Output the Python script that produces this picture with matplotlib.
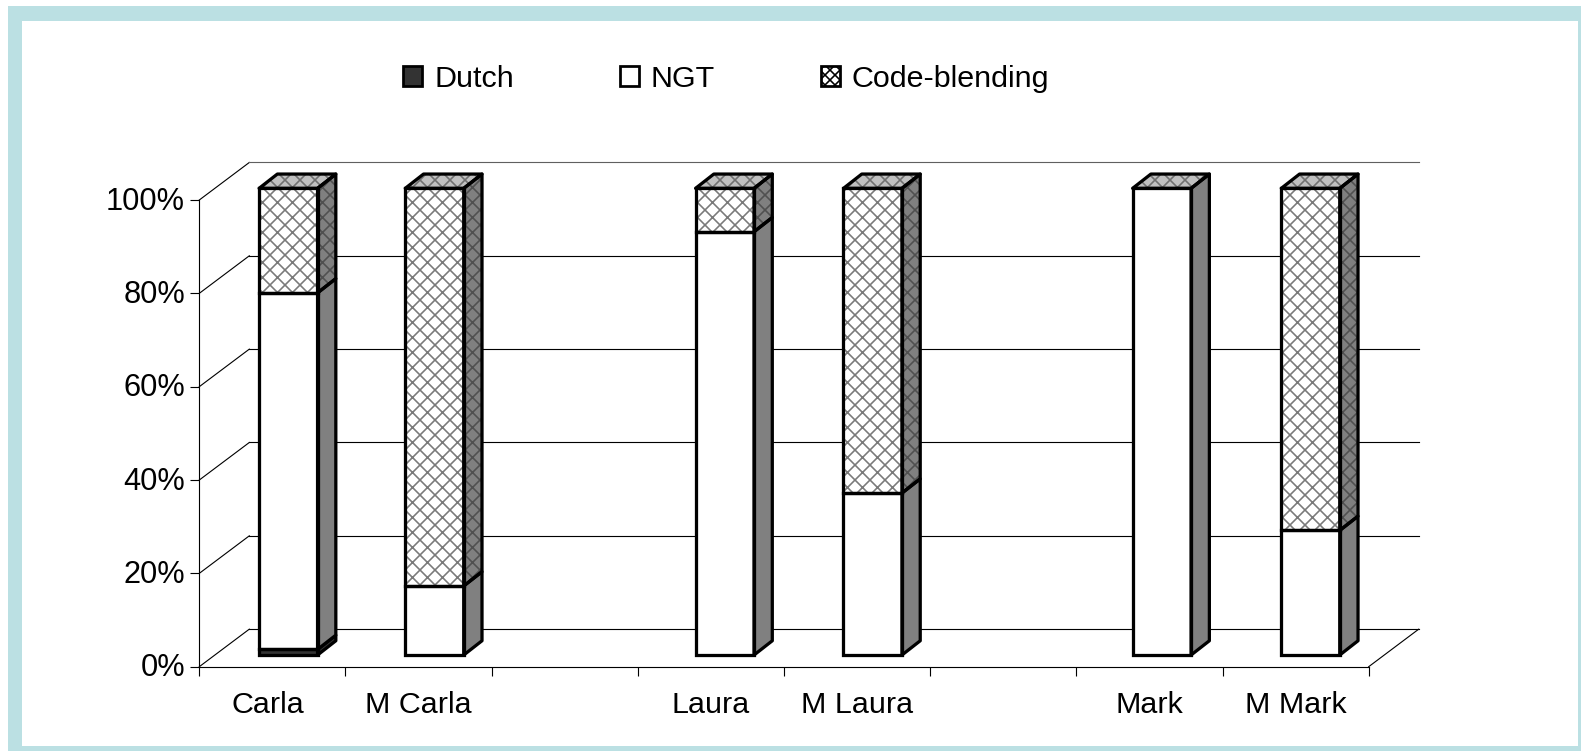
#!/usr/bin/env python3
"""Stacked 3D-look bars: Dutch / NGT / Code-blending per speaker"""

import matplotlib
matplotlib.use('Agg')
import matplotlib.pyplot as plt
from matplotlib.patches import Patch, Polygon, Rectangle
from matplotlib.transforms import ScaledTranslation

W, H = 1581, 751
DPI = 90

categories = ['Carla', 'M Carla', '', 'Laura', 'M Laura', '', 'Mark', 'M Mark']
dutch = [1.2, 0, 0, 0, 0, 0, 0, 0]
ngt = [76.4, 14.8, 0, 90.7, 34.7, 0, 100, 26.7]
code_blending = [22.4, 85.2, 0, 9.3, 65.3, 0, 0, 73.3]
y_ticks = [0, 20, 40, 60, 80, 100]
y_labels = ['0%', '20%', '40%', '60%', '80%', '100%']

TEAL = '#BBE0E3'
AX_LEFT, AX_RIGHT, AX_TOP, AX_BOTTOM = 199.3, 1368.7, 200.0, 666.7

# Profundidad, en unidades de datos
WALL_DX, WALL_DY = 0.342, 8.04
BAR_DX, BAR_DY = 0.125, 3.06
SHIFT_X, SHIFT_Y = 0.109, 2.5
BAR_W = 0.4
BAR_NUDGE = [0, 0, 0, -0.014, -0.002, 0, -0.024, -0.007]
EDGE = 2.6

plt.rcParams['font.family'] = ['Liberation Sans', 'DejaVu Sans']
plt.rcParams['hatch.linewidth'] = 1.3

fig = plt.figure(figsize=(W / DPI, H / DPI), dpi=DPI, facecolor='white')


def frame_rect(x0, y0, x1, y1, color):
    fig.add_artist(Rectangle((x0 / W, 1 - y1 / H), (x1 - x0) / W, (y1 - y0) / H,
                             transform=fig.transFigure, facecolor=color,
                             edgecolor='none', zorder=0))


def nudge(label, dx, dy):
    # dx, dy en pixeles
    label.set_transform(label.get_transform() +
                        ScaledTranslation(dx / DPI, dy / DPI, fig.dpi_scale_trans))


frame_rect(8, 6, W, H, TEAL)
frame_rect(22, 21, 1578, 746, 'white')

ax = fig.add_axes([AX_LEFT / W, 1 - AX_BOTTOM / H, (AX_RIGHT - AX_LEFT) / W,
                   (AX_BOTTOM - AX_TOP) / H])
ax.patch.set_visible(False)
ax.set_xlim(0, len(categories))
ax.set_ylim(0, 100)
for side in ['top', 'right']:
    ax.spines[side].set_visible(False)
for side in ['left', 'bottom']:
    ax.spines[side].set_linewidth(0.9)
    ax.spines[side].set_color('black')

ax.set_yticks(y_ticks)
ax.set_yticklabels(y_labels, fontsize=24.6)
ax.tick_params(axis='y', length=7.5, width=0.9, pad=4)
for label in ax.get_yticklabels():
    nudge(label, 0, 2)
ax.set_xticks(range(len(categories) + 1))
ax.set_xticklabels([])
ax.set_xticks([i + 0.5 for i in range(len(categories))], minor=True)
ax.set_xticklabels(categories, minor=True, fontsize=24.4)
ax.tick_params(axis='x', which='major', length=7.5, width=0.9)
ax.tick_params(axis='x', which='minor', length=0, pad=19.5)
nudge(ax.get_xticklabels(minor=True)[0], -5, 0)

# Paredes: rejilla del fondo y diagonales
n = len(categories)
for v in y_ticks:
    color = '#606060' if v == 100 else 'black'
    ax.plot([0, WALL_DX], [v, v + WALL_DY], color='black', lw=0.9, clip_on=False, zorder=1)
    ax.plot([WALL_DX, n + WALL_DX], [v + WALL_DY, v + WALL_DY], color=color, lw=0.9,
            clip_on=False, zorder=1)
ax.plot([n, n + WALL_DX], [0, WALL_DY], color='black', lw=0.9, clip_on=False, zorder=1)


def face(points, fill, hatch_color=None):
    if hatch_color:
        ax.add_patch(Polygon(points, closed=True, facecolor=fill, edgecolor=hatch_color,
                             hatch='xx', lw=0, clip_on=False, zorder=3))
        fill = 'none'
    ax.add_patch(Polygon(points, closed=True, facecolor=fill, edgecolor='black', lw=EDGE,
                         joinstyle='round', clip_on=False, zorder=4))


def segment(i, start, value, front, side, hatched):
    if value <= 0:
        return
    x0 = i + 0.5 + SHIFT_X + BAR_NUDGE[i] - BAR_W / 2
    x1 = x0 + BAR_W
    y0 = start + SHIFT_Y
    y1 = y0 + value
    face([(x1, y0), (x1 + BAR_DX, y0 + BAR_DY), (x1 + BAR_DX, y1 + BAR_DY), (x1, y1)],
         side, '#505050' if hatched else None)
    ax.bar(x0, value, BAR_W, bottom=y0, align='edge', color=front, linewidth=0,
           edgecolor='#7a7a7a' if hatched else 'none', hatch='xx' if hatched else None,
           clip_on=False, zorder=3)
    ax.bar(x0, value, BAR_W, bottom=y0, align='edge', facecolor='none', edgecolor='black',
           linewidth=EDGE, clip_on=False, zorder=5)


for i in range(n):
    if dutch[i] + ngt[i] + code_blending[i] == 0:
        continue
    segment(i, 0, dutch[i], '#333333', '#333333', False)
    segment(i, dutch[i], ngt[i], 'white', '#808080', False)
    segment(i, dutch[i] + ngt[i], code_blending[i], 'white', '#808080', True)
    # Tapa superior
    x0 = i + 0.5 + SHIFT_X + BAR_NUDGE[i] - BAR_W / 2
    x1 = x0 + BAR_W
    top = dutch[i] + ngt[i] + code_blending[i] + SHIFT_Y
    face([(x0, top), (x1, top), (x1 + BAR_DX, top + BAR_DY), (x0 + BAR_DX, top + BAR_DY)],
         '#C0C0C0', '#707070')

handles = [Patch(facecolor='#333333', edgecolor='black', lw=2.2, label='Dutch'),
           Patch(facecolor='white', edgecolor='black', lw=2.2, label='NGT'),
           Patch(facecolor='white', edgecolor='black', lw=2.2, hatch='xxx', label='Code-blending')]
fig.legend(handles=handles, loc='center left', bbox_to_anchor=(403.5 / W, 1 - 79 / H),
           ncol=3, frameon=False, fontsize=24.4, handlelength=0.62, handleheight=0.62,
           handletextpad=0.4, columnspacing=3.46, borderpad=0, borderaxespad=0)

fig.savefig('out.png', dpi=DPI)
